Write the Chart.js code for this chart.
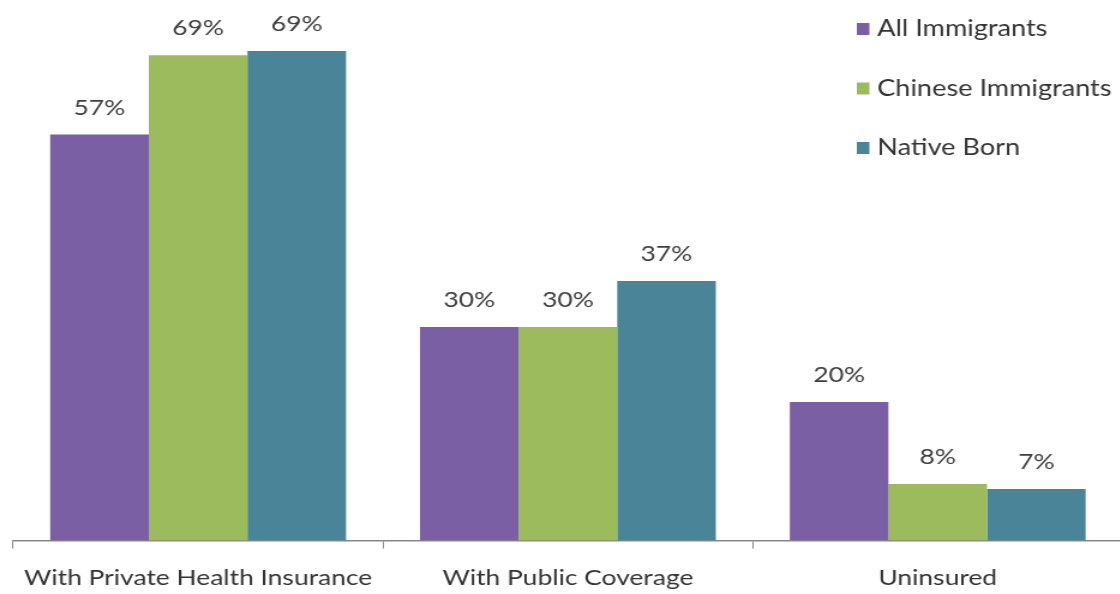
<!DOCTYPE html>
<html>
<head>
<meta charset="utf-8">
<script src="https://cdn.jsdelivr.net/npm/chart.js@4"></script>
<style>
  html, body { margin: 0; padding: 0; background: #fff; overflow: hidden; }
  /* the source graphic is horizontally stretched, so draw narrow and widen it */
  #wrap { position: relative; width: 938px; height: 594px; transform: scaleX(1.2); transform-origin: 0 0; }
</style>
</head>
<body>
<div id="wrap"><canvas id="chart"></canvas></div>
<script>
var categories = ['With Private Health Insurance', 'With Public Coverage', 'Uninsured']
var seriesNames = ['All Immigrants', 'Chinese Immigrants', 'Native Born']
var allImmigrants = [57.4, 30.2, 19.6]
var chineseImmigrants = [68.6, 30.2, 8.0]
var nativeBorn = [69.2, 36.7, 7.3]
var colors = ['#7b5fa5', '#9bbb5c', '#4a8499']

var font = 'Lato, "Open Sans", sans-serif'

// percent labels over each bar
var valueLabels = {
    id: 'valueLabels',
    afterDatasetsDraw: function(chart) {
        var ctx = chart.ctx
        ctx.save()
        ctx.font = '22px ' + font
        ctx.fillStyle = '#404040'
        ctx.textAlign = 'center'
        ctx.textBaseline = 'alphabetic'
        chart.data.datasets.forEach(function(ds, i) {
            chart.getDatasetMeta(i).data.forEach(function(bar, j) {
                ctx.fillText(Math.round(ds.data[j]) + '%', bar.x, bar.y - 20)
            })
        })
        ctx.restore()
    }
}

// legend in top right corner
var sideLegend = {
    id: 'sideLegend',
    afterDraw: function(chart) {
        var ctx = chart.ctx
        ctx.save()
        ctx.font = '22.6px ' + font
        ctx.textBaseline = 'middle'
        chart.data.datasets.forEach(function(ds, i) {
            var y = 29 + i * 59.5
            ctx.fillStyle = ds.backgroundColor
            ctx.fillRect(714, y - 6, 10.5, 12)
            ctx.fillStyle = '#333'
            ctx.fillText(ds.label, 731, y)
        })
        ctx.restore()
    }
}

var series = [allImmigrants, chineseImmigrants, nativeBorn]
var datasets = []
for (var i = 0; i < series.length; i++) {
    datasets.push({
        label: seriesNames[i],
        data: series[i],
        backgroundColor: colors[i],
        borderWidth: 0,
        categoryPercentage: 0.8,
        barPercentage: 1.0
    })
}

new Chart(document.getElementById('chart'), {
    type: 'bar',
    data: { labels: categories, datasets: datasets },
    options: {
        responsive: true,
        maintainAspectRatio: false,
        animation: false,
        layout: { padding: { left: 11, right: 2.5, top: 10, bottom: -13 } },
        plugins: {
            legend: { display: false },
            tooltip: { enabled: false }
        },
        scales: {
            x: {
                grid: {
                    offset: true,
                    drawOnChartArea: false,
                    drawTicks: true,
                    tickLength: 8,
                    color: '#888'
                },
                border: { color: '#888', width: 1.5 },
                ticks: {
                    color: '#333',
                    padding: 16,
                    maxRotation: 0,
                    minRotation: 0,
                    autoSkip: false,
                    font: { family: font, size: 22 }
                }
            },
            y: {
                display: false,
                min: 0,
                max: 75
            }
        }
    },
    plugins: [valueLabels, sideLegend]
})
</script>
</body>
</html>
